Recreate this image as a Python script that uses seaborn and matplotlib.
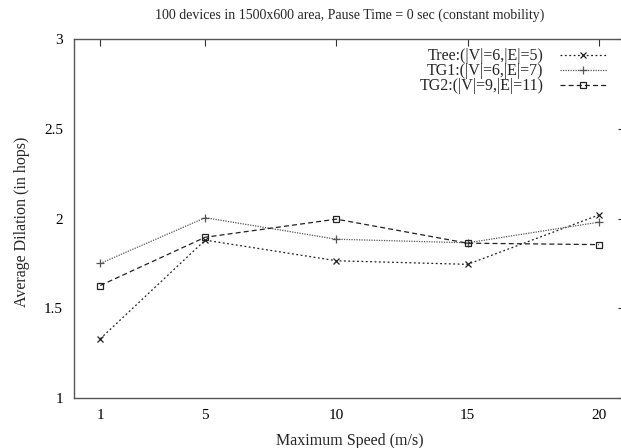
import matplotlib
matplotlib.use("Agg")
import matplotlib.pyplot as plt
import seaborn as sns
import pandas as pd

speeds = [1, 5, 10, 15, 20]
tree = [1.33, 1.88, 1.765, 1.745, 2.02]
tg1 = [1.75, 2.005, 1.885, 1.865, 1.98]
tg2 = [1.627, 1.896, 1.997, 1.863, 1.855]
labels = ["Tree:(|V|=6,|E|=5)", "TG1:(|V|=6,|E|=7)", "TG2:(|V|=9,|E|=11)"]
title = "100 devices in 1500x600 area, Pause Time = 0 sec (constant mobility)"
xlabel = "Maximum Speed (m/s)"
ylabel = "Average Dilation (in hops)"
yticks = [1, 1.5, 2, 2.5, 3]
yticklabels = ["1", "1.5", "2", "2.5", "3"]

sns.set_theme(style="white")
plt.rcParams["font.family"] = ["Liberation Serif", "DejaVu Serif"]
plt.rcParams["mathtext.default"] = "regular"

fig = plt.figure(figsize=(6.21, 4.48), dpi=100)
ax = fig.add_axes([74 / 621, 50 / 448, (625 - 74) / 621, (398.3 - 39.5) / 448])

styles = [
    dict(marker="x", color="#222222", ls=(0, (1.5, 2.0)), ms=5, mew=0.9),
    dict(marker="+", color="#555555", ls=(0, (1.0, 1.0)), ms=6, mew=0.9),
    dict(marker="s", color="#222222", ls=(0, (4, 2.5)), ms=5, mew=0.9, mfc="none"),
]
for vals, lab, st in zip([tree, tg1, tg2], labels, styles):
    df = pd.DataFrame({"x": speeds, "y": vals})
    sns.lineplot(data=df, x="x", y="y", ax=ax, label=lab, color=st["color"],
                 linestyle=st["ls"], marker=st["marker"], markersize=st["ms"],
                 markeredgewidth=st["mew"], markerfacecolor=st.get("mfc", st["color"]),
                 markeredgecolor=st["color"], linewidth=0.9)

ax.set_xlim(0, 21)
ax.set_ylim(1, 3)
ax.set_xticks(speeds)
ax.set_xticklabels([str(s) for s in speeds])
ax.set_yticks(yticks)
ax.set_yticklabels(yticklabels)
ax.tick_params(direction="in", length=5, width=0.8, top=True, right=True,
               labelsize=11, colors="#333333", labelcolor="black", pad=8)
for s in ax.spines.values():
    s.set_color("#555555")
    s.set_linewidth(1.0)
ax.set_title(title, fontsize=10, pad=15)
ax.set_xlabel(xlabel, fontsize=11.5, labelpad=8)
ax.set_ylabel(ylabel, fontsize=11.5)
ax.yaxis.set_label_coords(-0.08, 0.49)

leg = ax.legend(loc="upper right", bbox_to_anchor=(539 / 551, 0.992), frameon=False,
                markerfirst=False, fontsize=11.5, handlelength=2.9, handletextpad=1.05,
                labelspacing=-0.07, borderaxespad=0)

fig.savefig("out.png", dpi=100)
